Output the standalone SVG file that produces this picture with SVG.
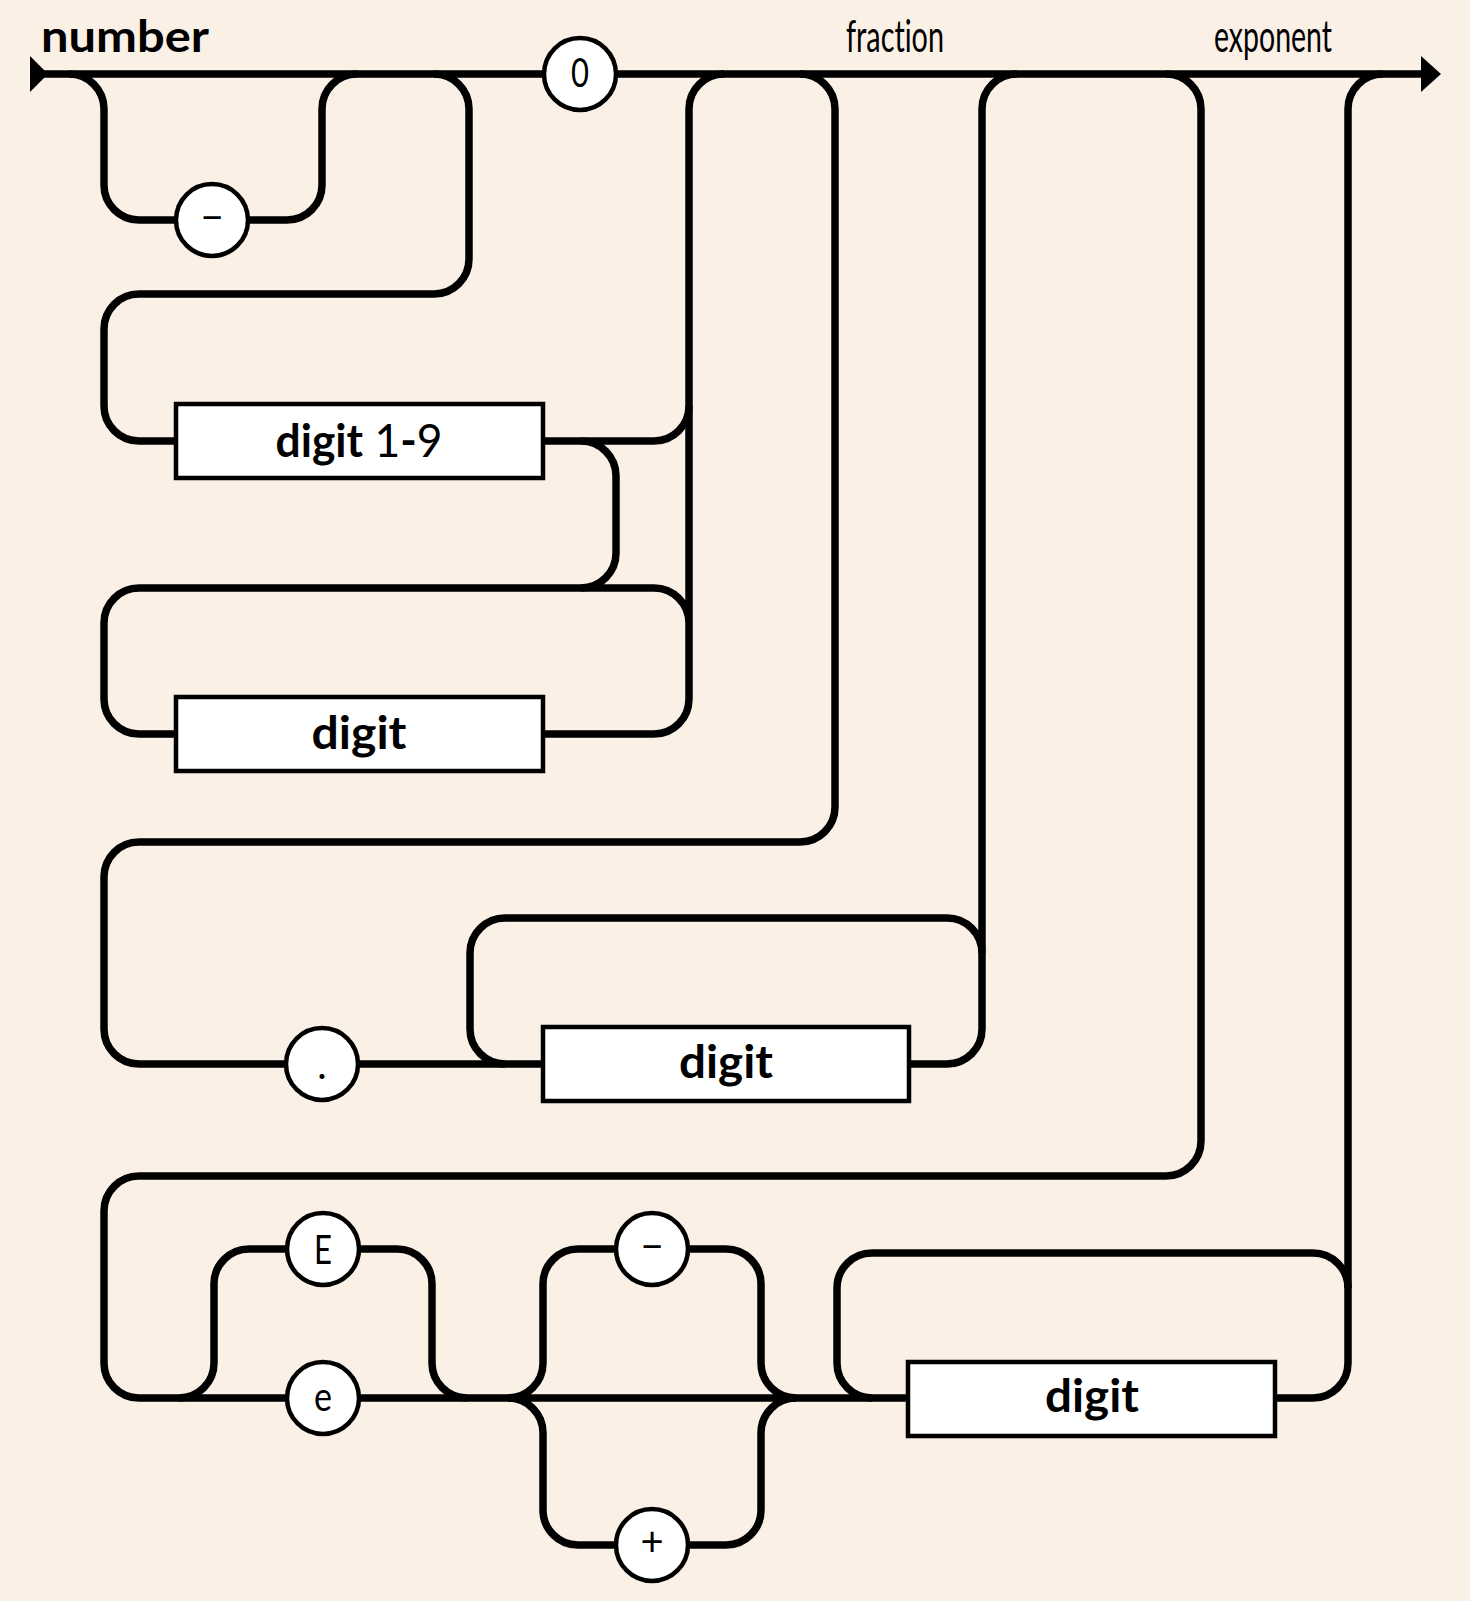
<svg xmlns="http://www.w3.org/2000/svg" width="1470" height="1601" viewBox="0 0 1470 1601">
<style>
.ln{fill:none;stroke:#000;stroke-width:7.5;stroke-linejoin:round}
.box{fill:#fff;stroke:#000;stroke-width:4.5}
.cir{fill:#fff;stroke:#000;stroke-width:4.5}
.bt{font-family:Lato,"Open Sans","Liberation Sans",sans-serif;font-weight:700;font-size:46px;fill:#000;text-anchor:middle}
.ct{font-family:Lato,"Open Sans","Liberation Sans",sans-serif;font-weight:400;font-size:40px;fill:#000;text-anchor:middle}
.lab{font-family:Lato,"Open Sans","Liberation Sans",sans-serif;font-weight:400;font-size:44px;fill:#000;font-variant-ligatures:none}
.title{font-family:Lato,"Open Sans","Liberation Sans",sans-serif;font-weight:700;font-size:44px;fill:#000}
</style>
<rect x="0" y="0" width="1470" height="1601" fill="#FAF0E6"/>
<g id="connectors">
<path class="ln" d="M36,74 H1424"/>
<polygon points="30,56 48,74 30,92" fill="#000"/>
<polygon points="1421,56 1441,74 1421,92" fill="#000"/>
<path class="ln" d="M69,74 A35,35 0 0 1 104,109 V185 A35,35 0 0 0 139,220 H287 A35,35 0 0 0 322,185 V109 A35,35 0 0 1 357,74"/>
<path class="ln" d="M434,74 A35,35 0 0 1 469,109 V259 A35,35 0 0 1 434,294 H139 A35,35 0 0 0 104,329 V406 A35,35 0 0 0 139,441 H176"/>
<path class="ln" d="M543,441 H654 A35,35 0 0 0 689,406 V109 A35,35 0 0 1 724,74"/>
<path class="ln" d="M581,441 A35,35 0 0 1 616,476 V553 A35,35 0 0 1 581,588"/>
<path class="ln" d="M689,623 A35,35 0 0 0 654,588 H139 A35,35 0 0 0 104,623 V699 A35,35 0 0 0 139,734 H176 M543,734 H654 A35,35 0 0 0 689,699 V406"/>
<path class="ln" d="M800,74 A35,35 0 0 1 835,109 V807 A35,35 0 0 1 800,842 H139 A35,35 0 0 0 104,877 V1029 A35,35 0 0 0 139,1064 H543"/>
<path class="ln" d="M909,1064 H947 A35,35 0 0 0 982,1029 V109 A35,35 0 0 1 1017,74"/>
<path class="ln" d="M982,953 A35,35 0 0 0 947,918 H505 A35,35 0 0 0 470,953 V1029 A35,35 0 0 0 505,1064"/>
<path class="ln" d="M1166,74 A35,35 0 0 1 1201,109 V1141 A35,35 0 0 1 1166,1176 H139 A35,35 0 0 0 104,1211 V1363 A35,35 0 0 0 139,1398 H908"/>
<path class="ln" d="M179,1398 A35,35 0 0 0 214,1363 V1284 A35,35 0 0 1 249,1249 H397 A35,35 0 0 1 432,1284 V1363 A35,35 0 0 0 467,1398"/>
<path class="ln" d="M508,1398 A35,35 0 0 0 543,1363 V1284 A35,35 0 0 1 578,1249 H726 A35,35 0 0 1 761,1284 V1363 A35,35 0 0 0 796,1398"/>
<path class="ln" d="M508,1398 A35,35 0 0 1 543,1433 V1510 A35,35 0 0 0 578,1545 H726 A35,35 0 0 0 761,1510 V1433 A35,35 0 0 1 796,1398"/>
<path class="ln" d="M1275,1398 H1313 A35,35 0 0 0 1348,1363 V109 A35,35 0 0 1 1383,74"/>
<path class="ln" d="M1348,1288 A35,35 0 0 0 1313,1253 H872 A35,35 0 0 0 837,1288 V1363 A35,35 0 0 0 872,1398"/>
</g>
<g id="labels">
<text class="title" x="41" y="52" textLength="168" lengthAdjust="spacingAndGlyphs">number</text>
<text class="lab" x="846" y="52" textLength="98" lengthAdjust="spacingAndGlyphs">fraction</text>
<text class="lab" x="1214" y="52" textLength="118" lengthAdjust="spacingAndGlyphs">exponent</text>
</g>
<g id="node-minus1"><circle class="cir" cx="212" cy="220" r="36"/><text class="ct" x="212" y="231" font-size="32" font-weight="700">−</text></g>
<g id="node-zero"><circle class="cir" cx="580" cy="74" r="36"/><text class="ct" x="580" y="87" font-size="36" textLength="18" lengthAdjust="spacingAndGlyphs">0</text></g>
<g id="node-digit19"><rect class="box" x="176" y="404" width="367" height="74"/><text class="bt" x="359" y="457" textLength="167" lengthAdjust="spacingAndGlyphs">digit<tspan font-weight="400"> 1</tspan>-<tspan font-weight="400">9</tspan></text></g>
<g id="node-digit-int"><rect class="box" x="176" y="697" width="367" height="74"/><text class="bt" x="359" y="749" textLength="95" lengthAdjust="spacingAndGlyphs">digit</text></g>
<g id="node-dot"><circle class="cir" cx="322" cy="1064" r="36"/><text class="ct" x="322" y="1079">.</text></g>
<g id="node-digit-frac"><rect class="box" x="543" y="1027" width="366" height="74"/><text class="bt" x="726" y="1078" textLength="94" lengthAdjust="spacingAndGlyphs">digit</text></g>
<g id="node-E"><circle class="cir" cx="323" cy="1249" r="36"/><text class="ct" x="323" y="1264" font-size="40" textLength="18" lengthAdjust="spacingAndGlyphs">E</text></g>
<g id="node-e"><circle class="cir" cx="323" cy="1398" r="36"/><text class="ct" x="323" y="1411" font-size="43" textLength="18" lengthAdjust="spacingAndGlyphs">e</text></g>
<g id="node-minus2"><circle class="cir" cx="652" cy="1249" r="36"/><text class="ct" x="652" y="1260" font-size="32" font-weight="700">−</text></g>
<g id="node-plus"><circle class="cir" cx="652" cy="1545" r="36"/><text class="ct" x="652" y="1556" font-size="32">+</text></g>
<g id="node-digit-exp"><rect class="box" x="908" y="1362" width="367" height="74"/><text class="bt" x="1092" y="1412" textLength="94" lengthAdjust="spacingAndGlyphs">digit</text></g>
</svg>
